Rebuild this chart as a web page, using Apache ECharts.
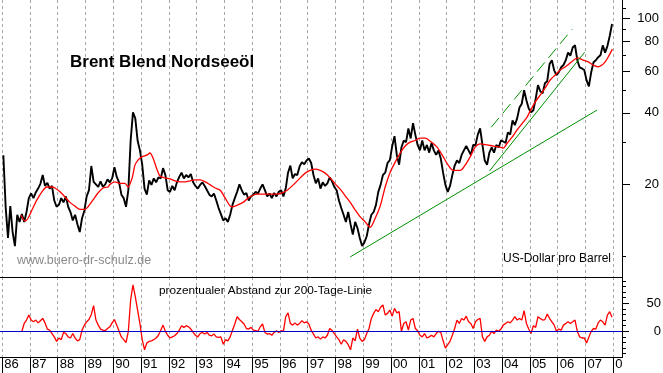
<!DOCTYPE html>
<html><head><meta charset="utf-8">
<script src="https://cdn.jsdelivr.net/npm/echarts@6/dist/echarts.min.js"></script>
<style>html,body{margin:0;padding:0;background:#fff}#c{width:663px;height:373px}</style>
</head><body><div id="c"></div>
<script>
// ---------- data ----------
// monthly Brent price (USD/barrel), first value = January 1986
const priceStart = 1986;
const prices = [
  26.5,16.0,11.9,16.2,12.6,11.0,14.9,13.9,15.0,13.9,15.3,17.5,
  18.3,17.5,18.5,19.2,20.1,21.9,19.7,20.3,19.2,19.7,17.1,16.1,
  16.4,17.5,16.8,17.8,16.1,15.3,14.1,14.9,13.6,12.6,14.4,15.5,
  17.8,18.9,23.9,20.5,20.0,19.5,20.6,19.5,20.0,21.0,20.4,21.2,
  23.6,21.5,20.4,18.1,17.5,16.1,18.9,30.6,40.2,37.9,30.6,27.8,
  24.2,19.2,18.1,20.8,19.9,21.2,20.4,21.4,21.2,23.4,21.9,18.9,
  18.6,19.7,18.9,20.4,21.5,22.4,21.2,21.9,21.4,22.1,20.4,19.7,
  19.2,19.9,20.4,19.7,18.9,18.1,17.8,18.3,17.1,15.9,15.0,14.1,
  14.4,13.9,14.9,16.4,17.5,18.6,20.0,18.9,18.1,18.4,17.1,17.8,
  18.1,18.6,18.3,19.2,20.0,18.9,17.8,18.3,17.5,18.4,17.8,18.6,
  18.9,17.8,19.2,22.4,24.0,21.2,22.1,21.9,23.8,24.8,24.3,25.2,
  25.7,24.6,21.9,20.2,21.2,19.2,20.4,19.7,20.2,21.4,20.6,19.5,
  18.9,17.1,15.9,14.9,13.9,15.3,13.6,12.3,13.9,13.1,11.9,11.0,
  11.4,12.1,13.6,14.9,15.3,16.4,18.6,19.9,21.9,22.4,24.6,25.3,
  28.9,31.9,26.6,24.2,28.6,30.6,30.1,34.4,31.2,36.2,32.4,29.3,
  27.8,30.6,27.8,29.3,27.2,29.9,27.8,26.6,27.8,25.7,22.4,19.9,
  18.6,19.7,21.9,24.0,25.2,24.6,26.6,27.8,29.0,27.8,26.6,29.3,
  29.3,32.4,34.4,29.3,25.2,24.2,27.2,28.6,27.2,29.3,28.6,30.6,
  30.3,29.9,33.1,32.4,37.2,35.5,37.9,42.1,43.7,49.8,45.2,41.7,
  40.2,41.0,45.8,52.3,49.3,48.3,53.3,54.4,64.2,66.6,60.4,57.6,
  59.3,62.2,63.6,66.6,71.7,69.6,75.4,77.0,66.6,62.2,61.5,60.6,
  54.8,51.7,59.3,65.3,66.6,68.6,69.9,76.9,71.7,76.4,84.2,94.6
];
// 200-day line (red)
const maYears = [
  1986.68,1986.82,1986.93,1987.07,1987.25,1987.43,1987.61,1987.79,1987.90,1988.08,
  1988.26,1988.44,1988.62,1988.80,1988.98,1989.09,1989.27,1989.45,1989.63,1989.81,
  1989.88,1990.06,1990.24,1990.42,1990.53,1990.68,1990.78,1990.89,1991.03,1991.22,
  1991.32,1991.43,1991.58,1991.68,1991.86,1992.04,1992.22,1992.41,1992.59,1992.77,
  1992.95,1993.13,1993.31,1993.49,1993.67,1993.85,1994.03,1994.21,1994.31,1994.49,
  1994.67,1994.85,1995.03,1995.18,1995.39,1995.65,1995.90,1996.08,1996.26,1996.48,
  1996.73,1996.91,1997.09,1997.27,1997.45,1997.63,1997.81,1997.99,1998.17,1998.35,
  1998.53,1998.71,1998.89,1999.07,1999.25,1999.43,1999.61,1999.79,1999.97,2000.15,
  2000.33,2000.51,2000.69,2000.87,2001.05,2001.23,2001.41,2001.66,2001.88,2002.06,
  2002.24,2002.49,2002.67,2002.85,2003.03,2003.21,2003.46,2003.68,2003.93,2004.04,
  2004.18,2004.36,2004.54,2004.73,2004.90,2005.01,2005.19,2005.37,2005.55,2005.73,
  2005.91,2006.09,2006.27,2006.45,2006.63,2006.74,2006.92,2007.10,2007.28,2007.46,
  2007.60,2007.71,2007.82,2007.97
];
const maValues = [
  14.85,14.0,14.4,15.6,17.2,18.6,19.5,19.5,19.3,18.6,
  17.7,16.8,16.2,15.7,15.7,16.1,17.2,18.4,19.3,19.5,
  20.0,20.5,20.2,20.2,19.5,21.3,24.1,25.3,26.1,26.6,
  27.1,25.8,23.0,21.7,21.3,21.1,20.7,20.5,20.5,20.7,
  20.9,20.9,20.5,19.9,19.3,18.9,17.5,16.2,16.1,16.4,
  16.8,17.5,18.0,18.2,18.2,18.2,18.2,18.4,18.9,19.9,
  21.3,22.3,22.9,23.2,22.9,22.3,21.3,20.1,19.1,17.9,
  16.8,15.6,14.6,13.9,13.2,14.4,16.2,19.5,22.5,24.8,
  27.1,29.0,30.1,30.6,31.3,31.3,30.4,28.7,26.1,24.1,
  22.9,22.9,24.1,26.1,28.7,29.6,29.3,29.0,28.7,28.4,
  29.8,31.6,33.9,36.2,38.4,40.7,44.4,47.5,50.9,55.0,
  57.7,60.6,62.4,64.8,67.4,68.0,66.7,65.5,63.6,62.4,
  63.6,65.5,68.7,74.2
];
// percentage distance to the 200-day line, monthly, first value = September 1986
const oscStart = 1986 + 8 / 12;
const oscValues = [
  0,14,20,29,
  20,17,20,15,19,23,15,4,2,-4,-10,-18,
  -12,-15,-2,-4,-10,-12,-4,-12,-17,-15,2,11,
  17,21,30,46,20,11,4,2,1,5,8,15,
  21,11,0,-10,-15,-20,0,56,83,62,38,14,
  -15,-33,-21,-18,-17,-15,-12,-7,2,11,0,-7,
  -12,-10,-8,-4,2,10,7,10,8,4,-2,-7,
  -10,-4,-2,-5,-2,-7,-8,-5,-10,-11,-10,-23,
  -15,-17,-10,2,13,26,21,17,13,5,4,7,
  2,1,0,8,13,-2,-5,-4,-7,-2,1,-2,
  1,0,26,33,14,11,15,11,14,19,15,17,
  13,2,-5,-12,-10,-14,-10,-12,-7,5,2,-4,
  -10,-15,-23,-15,-18,-24,-33,-12,-17,4,-12,-18,
  -15,-4,5,23,32,39,35,43,47,29,32,38,
  27,41,33,35,0,14,17,2,20,23,5,1,
  -7,-10,-4,-12,-10,-7,-10,-4,0,-2,-17,-30,
  -24,-18,-7,5,20,14,23,20,27,17,14,5,
  17,21,23,-10,-18,-10,-7,0,-4,2,0,4,
  11,14,17,15,20,26,20,23,20,37,14,4,
  -4,10,7,26,23,20,21,31,23,17,11,0,
  4,2,11,14,17,14,17,20,0,-10,-12,-12,
  -21,-10,0,5,4,15,20,17,11,29,35,25
];
// green trend lines: [year, price] end points
const supportLine = [[1998.53, 9.9], [2007.42, 41.1]];
const steepLine   = [[2003.55, 22.8], [2006.97, 71.9]];
const channelLine = [[2003.61, 34.8], [2006.52, 89.9]];
// axes
const yearTicks  = [1986,1987,1988,1989,1990,1991,1992,1993,1994,1995,1996,1997,1998,1999,2000,2001,2002,2003,2004,2005,2006,2007,2008];
const yearLabels = ['86','87','88','89','90','91','92','93','94','95','96','97','98','99','00','01','02','03','04','05','06','07','0'];
const priceMinorTicks = [10,20,30,40,50,60,70,80,90,100,110];
const priceLabels = [20,40,60,80,100];
const oscMinorTicks = [-40,-30,-20,-10,0,10,20,30,40,50,60,70,80,90];
const oscLabels = [0,50];

// ---------- chart ----------
const FONT = 'Liberation Sans, Arial, sans-serif';
const chart = echarts.init(document.getElementById('c'), null, {renderer: 'canvas', width: 663, height: 373});
const priceData = prices.map((v, i) => [priceStart + (i + 0.5) / 12, v]);
const maData = maYears.map((y, i) => [y, maValues[i]]);
const oscData = oscValues.map((v, i) => [oscStart + (i + 0.5) / 12, v]);
function yearLabel(v) {
  const r = Math.round(v);
  if (Math.abs(v - r) > 0.01) return '';
  const i = yearTicks.indexOf(r);
  return i >= 0 ? yearLabels[i] : '';
}

const xMin = 1985, xMax = 2008.317;
const gridLeft = -25.57, gridWidth = 647.57;
const dashed = {show: true, lineStyle: {color: '#a8a8a8', width: 1, type: [3, 3]}};

function rightAxis(grid, type, min, max, ticks, tickLen, labels, margin) {
  return {
    gridIndex: grid, type: type, position: 'right', min: min, max: max,
    logBase: 10,
    axisLine: {show: true, lineStyle: {color: '#000', width: 1}},
    axisTick: {show: true, length: tickLen, customValues: ticks, lineStyle: {color: '#000'}},
    axisLabel: labels ? {show: true, customValues: labels, color: '#000', fontSize: 13, fontFamily: FONT,
                         align: 'right', margin: margin} : {show: false},
    splitLine: {show: false}, minorTick: {show: false}
  };
}

const option = {
  animation: false,
  backgroundColor: '#fff',
  grid: [
    {left: gridLeft, top: 0, width: gridWidth, height: 277, containLabel: false, outerBoundsMode: 'none'},
    {left: gridLeft, top: 277, width: gridWidth, height: 80.3, containLabel: false, outerBoundsMode: 'none'}
  ],
  title: [
    {text: 'Brent Blend Nordseeöl', left: 70, top: 54, padding: 0,
     textStyle: {fontSize: 17, fontWeight: 'bold', color: '#000', fontFamily: FONT}},
    {text: 'www.buero-dr-schulz.de', left: 17, top: 254, padding: 0,
     textStyle: {fontSize: 12.5, fontWeight: 'normal', color: '#8a8a8a', fontFamily: FONT}},
    {text: 'US-Dollar pro Barrel', left: 503, top: 253, padding: 0,
     textStyle: {fontSize: 12, fontWeight: 'normal', color: '#000', fontFamily: FONT}},
    {text: 'prozentualer Abstand zur 200-Tage-Linie', left: 159, top: 285, padding: 0,
     textStyle: {fontSize: 11.8, fontWeight: 'normal', color: '#000', fontFamily: FONT}}
  ],
  xAxis: [
    {gridIndex: 0, type: 'value', min: xMin, max: xMax, interval: 1,
     axisLine: {show: true, onZero: false, lineStyle: {color: '#000', width: 1}},
     axisTick: {show: false, customValues: yearTicks}, axisLabel: {show: false}, splitLine: dashed},
    {gridIndex: 1, type: 'value', min: xMin, max: xMax, interval: 1,
     axisLine: {show: true, onZero: false, lineStyle: {color: '#000', width: 1}},
     axisTick: {show: true, length: 16, customValues: yearTicks, lineStyle: {color: '#000', width: 1}},
     axisLabel: {show: true, customValues: yearTicks, interval: 0, hideOverlap: false,
                 color: '#000', fontSize: 13, fontFamily: FONT, align: 'left', margin: 1,
                 padding: [0, 0, 0, 2], formatter: yearLabel},
     splitLine: dashed}
  ],
  yAxis: [
    rightAxis(0, 'log', 8.15, 119.4, priceMinorTicks, 4, null, 0),
    rightAxis(0, 'log', 8.15, 119.4, priceLabels, 8, priceLabels, 37),
    rightAxis(1, 'value', -46.43, 96.96, oscMinorTicks, 4, null, 0),
    rightAxis(1, 'value', -46.43, 96.96, oscLabels, 7, oscLabels, 39)
  ],
  series: [
    {name: 'Brent', type: 'line', xAxisIndex: 0, yAxisIndex: 0, data: priceData, showSymbol: false,
     lineStyle: {color: '#000', width: 1.9}, z: 3},
    {name: '200-Tage-Linie', type: 'line', xAxisIndex: 0, yAxisIndex: 0, data: maData, showSymbol: false,
     smooth: 0.3, lineStyle: {color: '#ff0000', width: 1.3}, z: 4},
    {name: 'support', type: 'line', xAxisIndex: 0, yAxisIndex: 0, data: supportLine, showSymbol: false,
     lineStyle: {color: '#009000', width: 1}, z: 5},
    {name: 'steep', type: 'line', xAxisIndex: 0, yAxisIndex: 0, data: steepLine, showSymbol: false,
     lineStyle: {color: '#009000', width: 1}, z: 5},
    {name: 'channel', type: 'line', xAxisIndex: 0, yAxisIndex: 0, data: channelLine, showSymbol: false,
     lineStyle: {color: '#009000', width: 1, type: [12, 6]}, z: 5},
    {name: 'Abstand', type: 'line', xAxisIndex: 1, yAxisIndex: 2, data: oscData, showSymbol: false,
     lineStyle: {color: '#ff0000', width: 1.3}, z: 4,
     markLine: {silent: true, symbol: 'none', label: {show: false}, animation: false,
                lineStyle: {color: '#0000c8', width: 1.2, type: 'solid'}, data: [{yAxis: 0}]}}
  ]
};
chart.setOption(option);
</script></body></html>
